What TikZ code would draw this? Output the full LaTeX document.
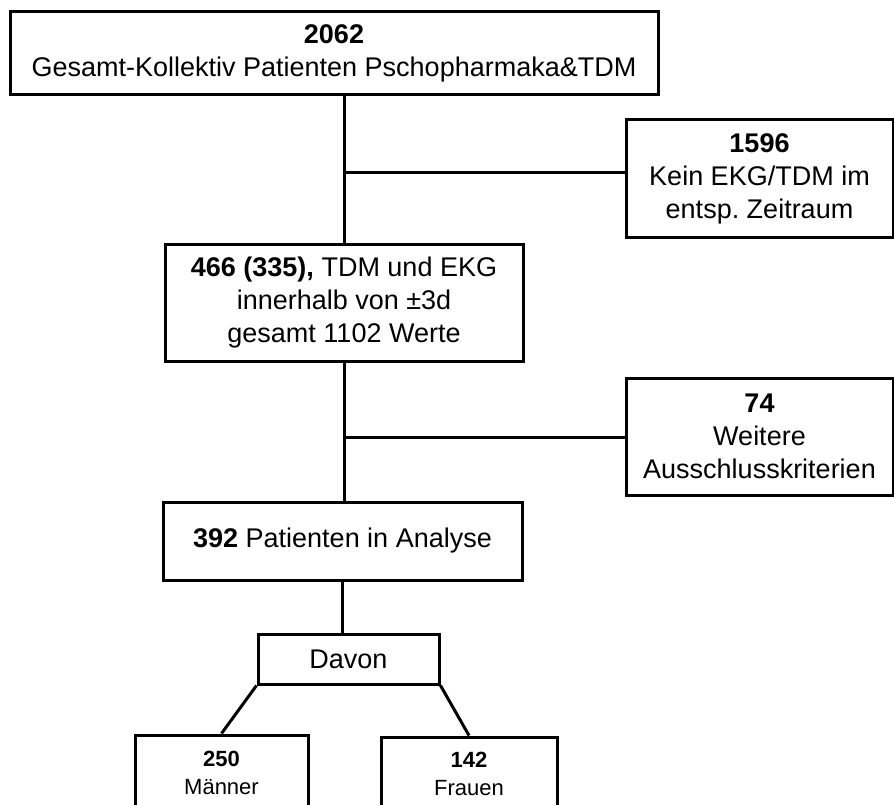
\documentclass[tikz,border=0pt]{standalone}
\usepackage{fontspec}
\setmainfont{Liberation Sans}
\frenchspacing
\begin{document}
\begin{tikzpicture}[x=1pt, y=-1pt,
    box/.style={draw, line width=3pt, align=center, inner sep=0pt,
                font=\fontsize{27}{33}\selectfont},
    smallbox/.style={box, font=\fontsize{22}{28}\selectfont},
    link/.style={line width=3pt}]
    \useasboundingbox (0,0) rectangle (894,805);
    \clip (0,0) rectangle (894,805);

    % main column
    \node[box, minimum width=648, minimum height=83] (gesamt) at (334,53.5)
        {\textbf{2062}\\Gesamt-Kollektiv Patienten Pschopharmaka\&TDM};
    \node[box, minimum width=358, minimum height=117] (tdm) at (344,302.5)
        {\textbf{466 (335),} TDM und EKG\\innerhalb von ±3d\\gesamt 1102 Werte};
    \node[box, minimum width=359, minimum height=78] (analyse) at (342.5,541)
        {\textbf{392} Patienten in Analyse};
    \node[box, minimum width=181, minimum height=50] (davon) at (348.5,659) {Davon};

    % exclusions
    \node[box, minimum width=267, minimum height=117] (kein) at (759.5,178.5)
        {\textbf{1596}\\Kein EKG/TDM im\\entsp. Zeitraum};
    \node[box, minimum width=267, minimum height=117] (weitere) at (759.5,436.5)
        {\textbf{74}\\Weitere\\Ausschlusskriterien};

    % split by sex
    \node[smallbox, minimum width=173, minimum height=75] (maenner) at (221.5,772.5)
        {\textbf{250}\\Männer};
    \node[smallbox, minimum width=176, minimum height=73] (frauen) at (469,773.5)
        {\textbf{142}\\Frauen};

    \coordinate (ast1) at (344,173);
    \coordinate (ast2) at (344,437);

    \draw[link] (gesamt.south -| tdm.north) -- (tdm.north);
    \draw[link] (ast1) -- (ast1 -| kein.west);
    \draw[link] (tdm.south) -- (tdm.south |- analyse.north);
    \draw[link] (ast2) -- (ast2 -| weitere.west);
    \draw[link] (analyse.south) -- (analyse.south |- davon.north);
    \draw[link] (davon.south west) -- (maenner.north);
    \draw[link] (davon.south east) -- (frauen.north);
\end{tikzpicture}
\end{document}
